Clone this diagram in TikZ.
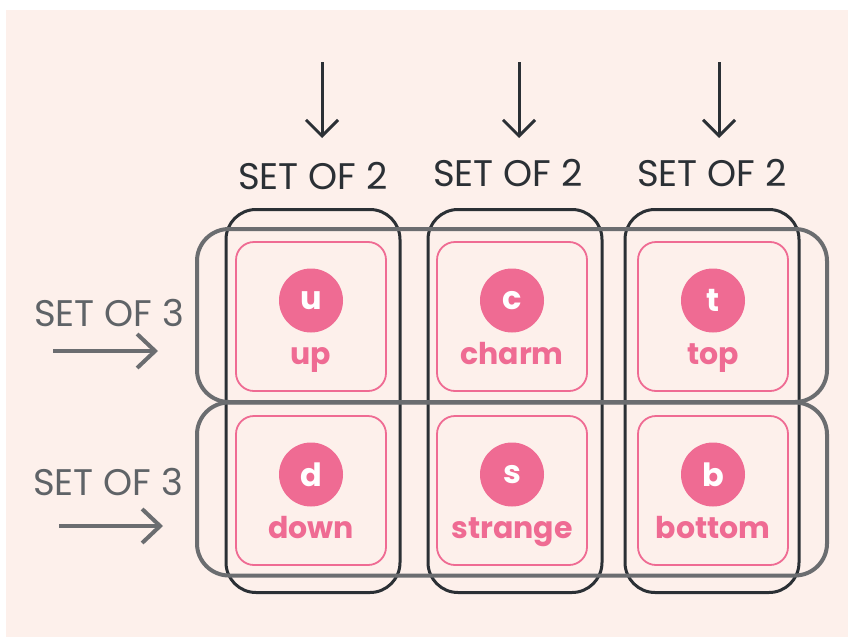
\documentclass[tikz,border=0pt]{standalone}
\usepackage{fontspec}
\setmainfont{Poppins}
\usetikzlibrary{arrows.meta}
\definecolor{bgpink}{HTML}{FDF0EB}
\definecolor{accent}{HTML}{EF6B93}
\definecolor{darkline}{HTML}{2B3035}
\definecolor{grayline}{HTML}{6B6D70}
\definecolor{graytext}{HTML}{5F6367}
\tikzset{
  colbox/.style={draw=darkline, line width=3pt, rounded corners=30pt,
    minimum width=174pt, minimum height=383pt, inner sep=0pt},
  rowbox/.style={draw=grayline, line width=4pt, rounded corners=32pt,
    minimum width=630pt, minimum height=173pt, inner sep=0pt},
  cellbox/.style={draw=accent, line width=1.8pt, rounded corners=18pt,
    minimum width=150pt, minimum height=149pt, inner sep=0pt},
  quark/.style={circle, fill=accent, minimum size=64pt, inner sep=0pt,
    text=white, font=\fontsize{32}{32}\selectfont\bfseries},
  qname/.style={text=accent, inner sep=0pt, font=\fontsize{30}{30}\selectfont\bfseries},
  settwo/.style={text=darkline, inner sep=0pt, font=\fontsize{37}{37}\selectfont},
  setthree/.style={text=graytext, inner sep=0pt, font=\fontsize{37}{37}\selectfont},
  downarrow/.style={draw=darkline, line width=3pt,
    -{Straight Barb[length=16pt, width=32pt, line width=3pt]}},
  rightarrow/.style={draw=grayline, line width=4pt,
    -{Straight Barb[length=18pt, width=34pt, line width=4pt]}},
}
\begin{document}
\begin{tikzpicture}[x=1pt, y=-1pt]
\useasboundingbox (0,0) rectangle (848,637);
\fill[bgpink] (6,10) rectangle (848,637);

% pink cells with the six quarks
\foreach \nm/\cx/\cy/\sym/\word in {
    up/311/316.5/u/up, charm/512/316.5/c/charm, top/713/316.5/t/top,
    down/311/490.5/d/down, strange/512/490.5/s/strange, bottom/713/490.5/b/bottom} {
  \node[cellbox] (cell-\nm) at (\cx,\cy) {};
  \node[quark] (q-\nm) at (\cx,\cy-16) {\sym};
  \node[qname, anchor=base] (n-\nm) at (\cx,\cy+48) {\word};
}

% column groups (sets of 2)
\node[colbox] (col1) at (313,401) {};
\node[colbox] (col2) at (515,401) {};
\node[colbox] (col3) at (712,401) {};

% row groups (sets of 3)
\node[rowbox] (row1) at (512,315.5) {};
\node[rowbox] (row2) at (512,489) {};

% labels above the columns
\node[settwo] (lab2a) at (313,176) {SET OF 2};
\node[settwo] (lab2b) at (508,173) {SET OF 2};
\node[settwo] (lab2c) at (712,173) {SET OF 2};

\coordinate (d1s) at (322,62);  \coordinate (d1e) at (322,138);
\coordinate (d2s) at (519,62);  \coordinate (d2e) at (519,138);
\coordinate (d3s) at (719,62);  \coordinate (d3e) at (719,138);
\draw[downarrow] (d1s) -- (d1e);
\draw[downarrow] (d2s) -- (d2e);
\draw[downarrow] (d3s) -- (d3e);

% labels left of the rows
\node[setthree] (lab3a) at (109,313) {SET OF 3};
\node[setthree] (lab3b) at (108,482) {SET OF 3};

\coordinate (r1s) at (53,351);  \coordinate (r1e) at (158,351);
\coordinate (r2s) at (59,526);  \coordinate (r2e) at (163,526);
\draw[rightarrow] (r1s) -- (r1e);
\draw[rightarrow] (r2s) -- (r2e);
\end{tikzpicture}
\end{document}
